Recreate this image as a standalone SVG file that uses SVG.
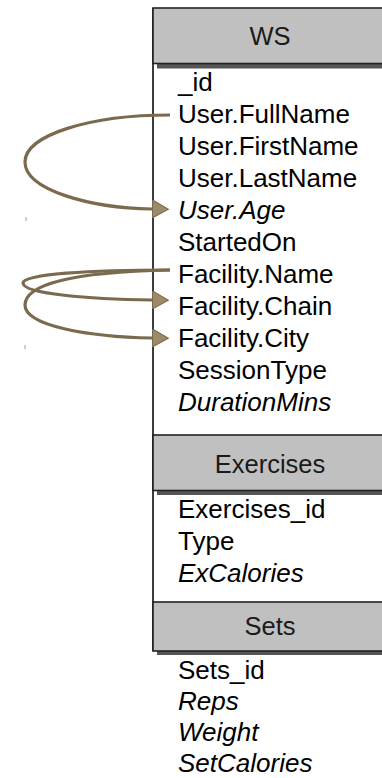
<svg xmlns="http://www.w3.org/2000/svg" width="382" height="778" viewBox="0 0 382 778">
  <style>
    .hdr { fill: #c0c0c0; stroke: #222; stroke-width: 1.6; }
    .shadow { fill: #555; }
    .htxt { font-family: "Liberation Sans", Arial, sans-serif; font-size: 25.5px; fill: #1a1a1a; text-anchor: middle; }
    .fld { font-family: "Liberation Sans", Arial, sans-serif; font-size: 26px; fill: #000; }
    .it { font-style: italic; }
    .edge { fill: none; stroke: #7a6a4e; stroke-width: 3.2; marker-end: url(#arr); }
    .tick { stroke: #a89a84; stroke-width: 1; }
  </style>
  <defs>
    <marker id="arr" viewBox="0 0 17 19" refX="0" refY="9.5" markerWidth="17" markerHeight="19" markerUnits="userSpaceOnUse" orient="auto">
      <path d="M0.5,0.5 L16.5,9.5 L0.5,18.5 Z" fill="#9c8a68" stroke="#7a6a4e" stroke-width="1"/>
    </marker>
  </defs>

  <!-- left border of the table -->
  <line x1="153" y1="8" x2="153" y2="651" stroke="#3c3c3c" stroke-width="2"/>

  <g id="ws">
    <rect class="shadow" x="157" y="12" width="235" height="56.5"/>
    <rect class="hdr" x="153" y="8" width="235" height="55.5"/>
    <text class="htxt" x="270" y="45">WS</text>
    <text class="fld" x="178" y="91">_id</text>
    <text class="fld" x="178" y="123">User.FullName</text>
    <text class="fld" x="178" y="155">User.FirstName</text>
    <text class="fld" x="178" y="187">User.LastName</text>
    <text class="fld it" x="178" y="219">User.Age</text>
    <text class="fld" x="178" y="251">StartedOn</text>
    <text class="fld" x="178" y="283">Facility.Name</text>
    <text class="fld" x="178" y="315">Facility.Chain</text>
    <text class="fld" x="178" y="347">Facility.City</text>
    <text class="fld" x="178" y="379">SessionType</text>
    <text class="fld it" x="178" y="411">DurationMins</text>
  </g>

  <g id="exercises">
    <rect class="shadow" x="157" y="439" width="235" height="56"/>
    <rect class="hdr" x="153" y="435" width="235" height="55.5"/>
    <text class="htxt" x="270" y="473">Exercises</text>
    <text class="fld" x="178" y="518">Exercises_id</text>
    <text class="fld" x="178" y="550">Type</text>
    <text class="fld it" x="178" y="582">ExCalories</text>
  </g>

  <g id="sets">
    <rect class="shadow" x="157" y="606" width="235" height="49"/>
    <rect class="hdr" x="153" y="602" width="235" height="49"/>
    <text class="htxt" x="270" y="635">Sets</text>
    <text class="fld" x="178" y="679">Sets_id</text>
    <text class="fld it" x="178" y="710">Reps</text>
    <text class="fld it" x="178" y="741">Weight</text>
    <text class="fld it" x="178" y="772">SetCalories</text>
  </g>

  <g id="connectors">
    <path class="edge" d="M170,115 C90,115 25,135 25,162 C25,190 90,208 152,209"/>
    <path class="edge" d="M170,270 C90,270 23,274 23,283 C23,294 90,299 152,300"/>
    <path class="edge" d="M170,270 C70,272 25,285 25,305 C25,326 90,337 152,338"/>
    <line class="tick" x1="26" y1="217" x2="26" y2="221"/>
    <line class="tick" x1="25" y1="345" x2="25" y2="349"/>
  </g>
</svg>
